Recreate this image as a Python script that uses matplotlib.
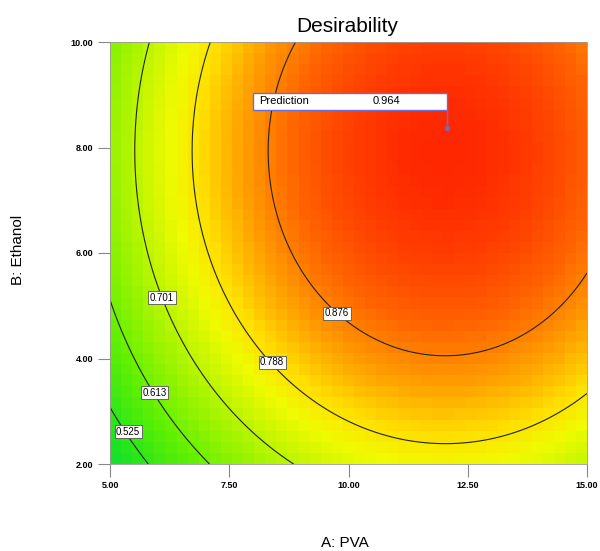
import numpy as np
import matplotlib
matplotlib.use("Agg")
import matplotlib.pyplot as plt
from matplotlib.colors import LinearSegmentedColormap

plt.rcParams['font.family'] = ['Liberation Sans', 'DejaVu Sans']

# contour traces: (level, A: PVA, B: Ethanol)
# last entries: the prediction point and the colour of the lower right corner
trace_level = [0.876, 0.876, 0.876, 0.876, 0.876, 0.876, 0.876,
               0.788, 0.788, 0.788, 0.788, 0.788, 0.788, 0.788,
               0.701, 0.701, 0.701, 0.701, 0.701,
               0.613, 0.613, 0.613, 0.613,
               0.525, 0.525, 0.525,
               0.964, 0.725]
trace_x = [11.92, 8.31, 8.70, 15.0, 9.76, 9.33, 8.70,
           11.92, 15.0, 6.78, 7.10, 8.40, 7.24, 8.98,
           5.61, 5.88, 6.09, 9.13, 7.10,
           5.00, 5.94, 7.26, 6.19,
           5.00, 5.99, 5.38,
           12.06, 15.0]
trace_y = [4.03, 7.90, 10.0, 5.92, 4.86, 5.30, 6.25,
           2.57, 3.46, 8.00, 10.0, 3.93, 5.49, 3.40,
           8.00, 10.0, 5.15, 2.00, 2.71,
           4.92, 3.35, 2.00, 2.96,
           2.99, 2.00, 2.61,
           8.37, 2.0]

levels = [0.525, 0.613, 0.701, 0.788, 0.876]
label_text = ['0.525', '0.613', '0.701', '0.788', '0.876']
label_x = [5.38, 5.94, 6.09, 8.40, 9.76]
label_y = [2.61, 3.35, 5.15, 3.93, 4.86]

pred_x, pred_y, pred_val = 12.06, 8.37, 0.964

x_ticks = [5.0, 7.5, 10.0, 12.5, 15.0]
y_ticks = [2.0, 4.0, 6.0, 8.0, 10.0]

# quadratic response surface fitted through the traced points
tx = np.array(trace_x)
ty = np.array(trace_y)
A = np.column_stack([np.ones_like(tx), tx, ty, tx**2, ty**2, tx * ty])
coef, *_ = np.linalg.lstsq(A, np.array(trace_level), rcond=None)

def desir(x, y):
    return coef[0] + coef[1]*x + coef[2]*y + coef[3]*x**2 + coef[4]*y**2 + coef[5]*x*y

vmin, vmax = 0.40, 0.97
stops = [(0.40, (0, 215, 70)), (0.50, (30, 228, 30)), (0.60, (100, 240, 0)),
         (0.70, (185, 245, 0)), (0.76, (240, 250, 0)), (0.80, (255, 222, 0)),
         (0.85, (255, 160, 0)), (0.90, (255, 100, 0)), (0.97, (255, 30, 0))]
cmap = LinearSegmentedColormap.from_list(
    'de', [((d - vmin) / (vmax - vmin), tuple(c / 255 for c in rgb)) for d, rgb in stops])

fig = plt.figure(figsize=(6, 5.51), dpi=100)
ax = fig.add_axes([110/600, 87/551, 477/600, 422/551])

# blocky colour cells like the original
xe = np.linspace(5, 15, 44)
ye = np.linspace(2, 10, 39)
xc = (xe[:-1] + xe[1:]) / 2
yc = (ye[:-1] + ye[1:]) / 2
XC, YC = np.meshgrid(xc, yc)
ax.pcolormesh(xe, ye, desir(XC, YC), cmap=cmap, vmin=vmin, vmax=vmax, shading='flat')

xf = np.linspace(5, 15, 300)
yf = np.linspace(2, 10, 300)
XF, YF = np.meshgrid(xf, yf)
ax.contour(XF, YF, desir(XF, YF), levels=levels, colors='#222222', linewidths=0.8)

for t, lx, ly in zip(label_text, label_x, label_y):
    ax.text(lx, ly, t, fontsize=7, ha='center', va='center', zorder=5,
            bbox=dict(boxstyle='square,pad=0.15', fc='white', ec='#555555', lw=0.6))

# prediction flag
ax.plot([pred_x, pred_x], [pred_y, 8.71], color='#6b6bdc', lw=1, zorder=6)
ax.plot(pred_x, pred_y, 'o', color='#6b6bdc', ms=2.5, zorder=6)
ax.add_patch(plt.Rectangle((7.99, 8.71), pred_x - 7.99, 0.33, fc='white', ec='#6b6bdc', lw=1, zorder=6))
ax.text(8.12, 8.875, 'Prediction', fontsize=8, va='center', ha='left', zorder=7)
ax.text(10.8, 8.875, '%.3f' % pred_val, fontsize=8, va='center', ha='center', zorder=7)

ax.set_xlim(5, 15)
ax.set_ylim(2, 10)
ax.set_xticks(x_ticks)
ax.set_yticks(y_ticks)
ax.set_xticklabels(['%.2f' % v for v in x_ticks], fontsize=6.5, fontweight='bold')
ax.set_yticklabels(['%.2f' % v for v in y_ticks], fontsize=6.5, fontweight='bold')
ax.tick_params(direction='out', length=9, width=0.8, color='#888888', pad=3)
for s in ax.spines.values():
    s.set_color('#999999')
    s.set_linewidth(0.6)

fig.text(347/600, 1 - 26/551, 'Desirability', fontsize=15, ha='center', va='center')
fig.text(345/600, 1 - 543/551, 'A: PVA', fontsize=11, ha='center', va='center')
fig.text(18/600, 1 - 250/551, 'B: Ethanol', fontsize=11, ha='center', va='center', rotation=90)

fig.savefig('out.png', dpi=100)
